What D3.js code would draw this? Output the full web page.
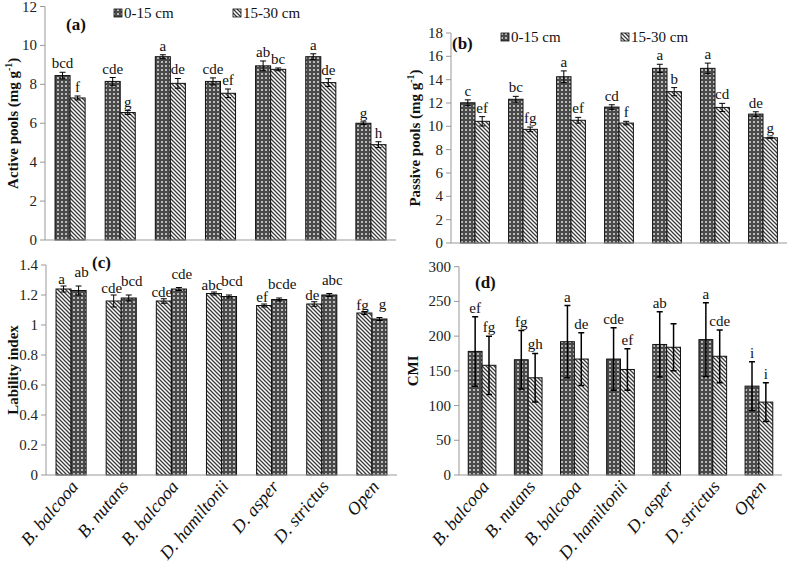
<!DOCTYPE html>
<html>
<head>
<meta charset="utf-8">
<script src="https://cdn.jsdelivr.net/npm/d3@7"></script>
<style>
  body { margin: 0; background: #fff; }
  svg { font-family: "Liberation Serif", "Times New Roman", serif; }
</style>
</head>
<body>
<script>
// categories (treatments)
var categories = ["B. balcooa", "B. nutans", "B. balcooa", "D. hamiltonii", "D. asper", "D. strictus", "Open"];
var depths = ["0-15 cm", "15-30 cm"];

// (a) active pools
var activeTop = [8.45, 8.15, 9.42, 8.15, 8.95, 9.42, 6.0];
var activeTopErr = [0.17, 0.2, 0.1, 0.18, 0.25, 0.15, 0.07];
var activeSub = [7.3, 6.55, 8.05, 7.54, 8.77, 8.09, 4.9];
var activeSubErr = [0.1, 0.1, 0.25, 0.22, 0.07, 0.2, 0.15];
var activeTopLet = ["bcd", "cde", "a", "cde", "ab", "a", "g"];
var activeSubLet = ["f", "g", "de", "ef", "bc", "de", "h"];

// (b) passive pools
var passiveTop = [12.02, 12.32, 14.25, 11.65, 14.97, 14.97, 11.05];
var passiveTopErr = [0.25, 0.25, 0.5, 0.2, 0.35, 0.45, 0.2];
var passiveSub = [10.43, 9.74, 10.52, 10.28, 12.97, 11.62, 9.02];
var passiveSubErr = [0.4, 0.2, 0.25, 0.15, 0.35, 0.35, 0.05];
var passiveTopLet = ["c", "bc", "a", "cd", "a", "a", "de"];
var passiveSubLet = ["ef", "fg", "ef", "f", "b", "cd", "g"];

// (c) lability index
var labTop = [1.24, 1.16, 1.16, 1.21, 1.13, 1.14, 1.08];
var labTopErr = [0.02, 0.04, 0.015, 0.01, 0.01, 0.015, 0.01];
var labSub = [1.23, 1.18, 1.24, 1.19, 1.17, 1.2, 1.04];
var labSubErr = [0.03, 0.02, 0.01, 0.01, 0.01, 0.01, 0.01];
var labTopLet = ["a", "cde", "cde", "abc", "ef", "de", "fg"];
var labSubLet = ["ab", "bcd", "cde", "bcd", "bcde", "abc", "g"];

// (d) CMI
var cmiTop = [178, 166, 192, 167, 188, 195, 128];
var cmiTopErr = [50, 42, 52, 45, 47, 53, 35];
var cmiSub = [158, 140, 167, 152, 184, 171, 105];
var cmiSubErr = [42, 35, 38, 30, 34, 38, 28];
var cmiTopLet = ["ef", "fg", "a", "cde", "ab", "a", "i"];
var cmiSubLet = ["fg", "gh", "de", "ef", "", "cde", "i"];

var svg = d3.select("body").append("svg")
  .attr("width", 789)
  .attr("height", 567);

var defs = svg.append("defs");

// dark dotted grid fill
var pd = defs.append("pattern").attr("id", "dots")
  .attr("patternUnits", "userSpaceOnUse").attr("width", 4).attr("height", 4);
pd.append("rect").attr("width", 4).attr("height", 4).attr("fill", "#4a4a4a");
pd.append("rect").attr("x", 1).attr("y", 1).attr("width", 2).attr("height", 2).attr("fill", "#a8a8a8");
pd.append("rect").attr("x", 1.5).attr("y", 1.5).attr("width", 1).attr("height", 1).attr("fill", "#eee");

// diagonal hatch fill
var ph = defs.append("pattern").attr("id", "hatch")
  .attr("patternUnits", "userSpaceOnUse").attr("width", 4).attr("height", 4);
ph.append("rect").attr("width", 4).attr("height", 4).attr("fill", "#fff");
ph.append("path").attr("d", "M0,0L4,4M-1,3L1,5M3,-1L5,1")
  .attr("stroke", "#3a3a3a").attr("stroke-width", 1.3);

function drawPanel(p) {
  var x = d3.scaleBand()
    .domain(d3.range(categories.length))
    .range([p.x0, p.x1])
    .paddingInner(0.4)
    .paddingOuter(0.2);
  var x1 = d3.scaleBand().domain([0, 1]).range([0, x.bandwidth()]);
  var y = d3.scaleLinear().domain([0, p.max]).range([p.y0, p.y1]);

  var g = svg.append("g");

  // y axis
  var ticks = d3.range(0, p.max + p.step / 2, p.step);
  g.append("line").attr("x1", p.x0).attr("x2", p.x0)
    .attr("y1", y(0)).attr("y2", y(p.max)).attr("stroke", "#999");
  g.selectAll(".tk").data(ticks).enter().append("line")
    .attr("x1", p.x0 - 5).attr("x2", p.x0)
    .attr("y1", function(d) { return y(d); }).attr("y2", function(d) { return y(d); })
    .attr("stroke", "#999");
  g.selectAll(".tl").data(ticks).enter().append("text")
    .attr("x", p.x0 - 8)
    .attr("y", function(d) { return y(d) + 5; })
    .attr("text-anchor", "end")
    .attr("font-size", 15)
    .attr("fill", "#222")
    .text(function(d) { return +d.toFixed(1); });

  // bars
  var series = [
    {vals: p.top, err: p.topErr, let: p.topLet},
    {vals: p.sub, err: p.subErr, let: p.subLet}
  ];
  series.forEach(function(s, si) {
    var gs = g.append("g");
    var bx = function(i) { return x(i) + x1(si); };
    gs.selectAll("rect").data(s.vals).enter().append("rect")
      .attr("x", function(d, i) { return bx(i); })
      .attr("y", function(d) { return y(d); })
      .attr("width", x1.bandwidth())
      .attr("height", function(d) { return y(0) - y(d); })
      .attr("fill", "url(#" + p.fills[si] + ")")
      .attr("stroke", "#111")
      .attr("stroke-width", 1);

    var cx = function(i) { return bx(i) + x1.bandwidth() / 2; };
    gs.selectAll(".eb").data(s.vals).enter().append("path")
      .attr("d", function(d, i) {
        var c = cx(i), t = y(d + s.err[i]), b = y(d - s.err[i]);
        return "M" + c + "," + t + "V" + b +
          "M" + (c - 3) + "," + t + "H" + (c + 3) +
          "M" + (c - 3) + "," + b + "H" + (c + 3);
      })
      .attr("stroke", "#000").attr("stroke-width", p.errW).attr("fill", "none");

    // significance letters sit just above the error cap
    gs.selectAll(".lt").data(s.let).enter().append("text")
      .attr("x", function(d, i) { return cx(i) + p.letDx[si]; })
      .attr("y", function(d, i) { return y(s.vals[i] + s.err[i]) - p.letGap[si]; })
      .attr("text-anchor", "middle")
      .attr("font-size", 15)
      .attr("fill", "#111")
      .text(function(d) { return d; });
  });

  // x axis line
  g.append("line").attr("x1", p.x0).attr("x2", p.x1)
    .attr("y1", y(0)).attr("y2", y(0)).attr("stroke", "#999");

  if (p.xlabels) {
    g.selectAll(".xl").data(categories).enter().append("text")
      .attr("transform", function(d, i) {
        return "translate(" + (x(i) + x.bandwidth() / 2 + 8) + "," + (y(0) + 12) + ") rotate(-50)";
      })
      .attr("text-anchor", "end")
      .attr("font-size", 18)
      .attr("font-style", "italic")
      .attr("fill", "#111")
      .text(function(d) { return d; });
  }

  // y title
  var tt = g.append("text")
    .attr("transform", "translate(" + p.titleX + "," + ((p.y0 + p.y1) / 2) + ") rotate(-90)")
    .attr("text-anchor", "middle")
    .attr("font-size", 15)
    .attr("font-weight", "bold")
    .attr("fill", "#111");
  tt.append("tspan").text(p.title);
  if (p.unit) {
    tt.append("tspan").text(" (mg g");
    tt.append("tspan").attr("font-size", 10).attr("dy", -6).text("-1");
    tt.append("tspan").attr("dy", 6).text(")");
  }

  // panel tag
  g.append("text").attr("x", p.tag[0]).attr("y", p.tag[1])
    .attr("font-size", 17).attr("font-weight", "bold").attr("fill", "#111")
    .text(p.tagText);

  // legend
  if (p.legend) {
    depths.forEach(function(d, i) {
      var lx = p.legend[i][0], ly = p.legend[i][1];
      g.append("rect").attr("x", lx).attr("y", ly - 9).attr("width", 8).attr("height", 8)
        .attr("fill", "url(#" + p.fills[i] + ")").attr("stroke", "#111").attr("stroke-width", 0.8);
      g.append("text").attr("x", lx + 10).attr("y", ly)
        .attr("font-size", 15).attr("fill", "#111").text(d);
    });
  }
}

drawPanel({
  x0: 45, x1: 396, y0: 240, y1: 6.5, max: 12, step: 2,
  top: activeTop, topErr: activeTopErr, topLet: activeTopLet,
  sub: activeSub, subErr: activeSubErr, subLet: activeSubLet,
  fills: ["dots", "hatch"], errW: 1, letGap: [4, 4], letDx: [0, 0],
  title: "Active pools", unit: true, titleX: 18,
  tag: [66, 30], tagText: "(a)",
  legend: [[114, 18], [233, 18]]
});

drawPanel({
  x0: 451, x1: 787, y0: 243, y1: 33, max: 18, step: 2,
  top: passiveTop, topErr: passiveTopErr, topLet: passiveTopLet,
  sub: passiveSub, subErr: passiveSubErr, subLet: passiveSubLet,
  fills: ["dots", "hatch"], errW: 1, letGap: [4, 4], letDx: [0, 0],
  title: "Passive pools", unit: true, titleX: 420,
  tag: [452, 49], tagText: "(b)",
  legend: [[501, 42], [621, 42]]
});

drawPanel({
  x0: 46, x1: 397, y0: 475, y1: 265, max: 1.4, step: 0.2,
  top: labTop, topErr: labTopErr, topLet: labTopLet,
  sub: labSub, subErr: labSubErr, subLet: labSubLet,
  fills: ["hatch", "dots"], errW: 1, letGap: [2, 9], letDx: [-2, 3],
  title: "Lability index", unit: false, titleX: 18,
  tag: [92, 268], tagText: "(c)",
  xlabels: true
});

drawPanel({
  x0: 459, x1: 782, y0: 475, y1: 266.7, max: 300, step: 50,
  top: cmiTop, topErr: cmiTopErr, topLet: cmiTopLet,
  sub: cmiSub, subErr: cmiSubErr, subLet: cmiSubLet,
  fills: ["dots", "hatch"], errW: 1.5, letGap: [4, 4], letDx: [0, 0],
  title: "CMI", unit: false, titleX: 418,
  tag: [475, 288], tagText: "(d)",
  xlabels: true
});
</script>
</body>
</html>
